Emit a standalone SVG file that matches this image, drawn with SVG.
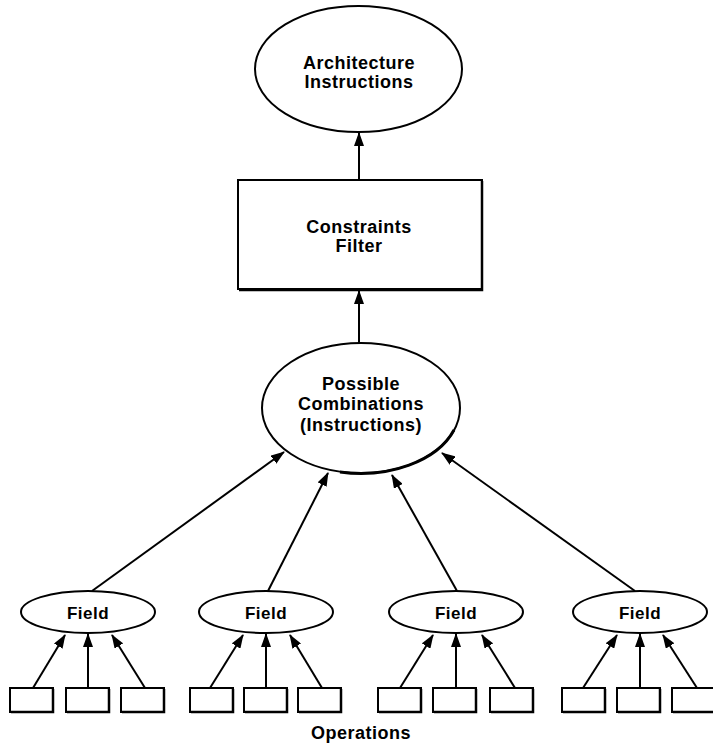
<svg xmlns="http://www.w3.org/2000/svg" width="713" height="747" viewBox="0 0 713 747">
<style>
.shape{fill:#fff;stroke:#000;stroke-width:2}
.shadow{fill:none;stroke:#000;stroke-width:2.5}
.lbl{font-family:"Liberation Sans",Arial,sans-serif;font-weight:bold;font-size:18px;letter-spacing:0.5px;text-anchor:middle;fill:#000}
.fld{font-size:17px}
.conn line{stroke:#000;stroke-width:2;marker-end:url(#ah)}
</style>
<defs>
<marker id="ah" markerUnits="userSpaceOnUse" markerWidth="14" markerHeight="10" refX="13" refY="5" orient="auto">
<path d="M0,0 L14,5 L0,10 Z" fill="#000"/>
</marker>
</defs>
<rect width="713" height="747" fill="#fff"/>

<g id="arch">
<ellipse class="shape" cx="358.5" cy="69" rx="103.5" ry="63"/>
<text class="lbl" x="359" y="69">Architecture</text>
<text class="lbl" x="359" y="88">Instructions</text>
</g>

<g id="filter">
<rect class="shape" x="238" y="180" width="244" height="109"/>
<path class="shadow" d="M482,181 V290 H239"/>
<text class="lbl" x="359" y="233">Constraints</text>
<text class="lbl" x="359" y="252">Filter</text>
</g>

<g id="combos">
<ellipse class="shape" cx="361" cy="408" rx="99" ry="65"/>
<path d="M454,430 A99,65 0 0 1 340,472" fill="none" stroke="#000" stroke-width="3"/>
<text class="lbl" x="361" y="390">Possible</text>
<text class="lbl" x="361" y="410">Combinations</text>
<text class="lbl" x="361" y="431">(Instructions)</text>
</g>

<g id="field1">
<ellipse class="shape" cx="88" cy="612" rx="67" ry="21"/>
<text class="lbl fld" x="88" y="619">Field</text>
</g>
<g id="field2">
<ellipse class="shape" cx="266" cy="612" rx="67" ry="21"/>
<text class="lbl fld" x="266" y="619">Field</text>
</g>
<g id="field3">
<ellipse class="shape" cx="456" cy="612" rx="67" ry="21"/>
<text class="lbl fld" x="456" y="619">Field</text>
</g>
<g id="field4">
<ellipse class="shape" cx="640" cy="612" rx="67" ry="21"/>
<text class="lbl fld" x="640" y="619">Field</text>
</g>

<g id="ops">
<g id="op1a"><rect class="shape" x="10" y="688" width="43" height="24"/><path class="shadow" d="M53,689 V712 H11"/></g>
<g id="op1b"><rect class="shape" x="66" y="688" width="43" height="24"/><path class="shadow" d="M109,689 V712 H67"/></g>
<g id="op1c"><rect class="shape" x="121" y="688" width="43" height="24"/><path class="shadow" d="M164,689 V712 H122"/></g>
<g id="op2a"><rect class="shape" x="190" y="688" width="43" height="24"/><path class="shadow" d="M233,689 V712 H191"/></g>
<g id="op2b"><rect class="shape" x="244" y="688" width="43" height="24"/><path class="shadow" d="M287,689 V712 H245"/></g>
<g id="op2c"><rect class="shape" x="298" y="688" width="43" height="24"/><path class="shadow" d="M341,689 V712 H299"/></g>
<g id="op3a"><rect class="shape" x="378" y="688" width="43" height="24"/><path class="shadow" d="M421,689 V712 H379"/></g>
<g id="op3b"><rect class="shape" x="433" y="688" width="43" height="24"/><path class="shadow" d="M476,689 V712 H434"/></g>
<g id="op3c"><rect class="shape" x="490" y="688" width="43" height="24"/><path class="shadow" d="M533,689 V712 H491"/></g>
<g id="op4a"><rect class="shape" x="562" y="688" width="43" height="24"/><path class="shadow" d="M605,689 V712 H563"/></g>
<g id="op4b"><rect class="shape" x="617" y="688" width="43" height="24"/><path class="shadow" d="M660,689 V712 H618"/></g>
<g id="op4c"><rect class="shape" x="672" y="688" width="43" height="24"/><path class="shadow" d="M715,689 V712 H673"/></g>
<text class="lbl" x="361" y="739">Operations</text>
</g>

<g id="connectors" class="conn">
<line x1="359" y1="180" x2="359" y2="133"/>
<line x1="359" y1="343" x2="359" y2="291"/>
<line x1="92" y1="591" x2="284" y2="452"/>
<line x1="268" y1="591" x2="328" y2="473"/>
<line x1="457" y1="591" x2="392" y2="475"/>
<line x1="635" y1="591" x2="442" y2="453"/>
<line x1="33" y1="688" x2="65" y2="635"/>
<line x1="88" y1="688" x2="88" y2="634"/>
<line x1="145" y1="688" x2="112" y2="635"/>
<line x1="210" y1="688" x2="243" y2="635"/>
<line x1="266" y1="688" x2="266" y2="634"/>
<line x1="322" y1="688" x2="290" y2="635"/>
<line x1="400" y1="688" x2="433" y2="635"/>
<line x1="456" y1="688" x2="456" y2="634"/>
<line x1="515" y1="688" x2="482" y2="635"/>
<line x1="583" y1="688" x2="617" y2="635"/>
<line x1="640" y1="688" x2="640" y2="634"/>
<line x1="697" y1="688" x2="663" y2="635"/>
</g>
</svg>
